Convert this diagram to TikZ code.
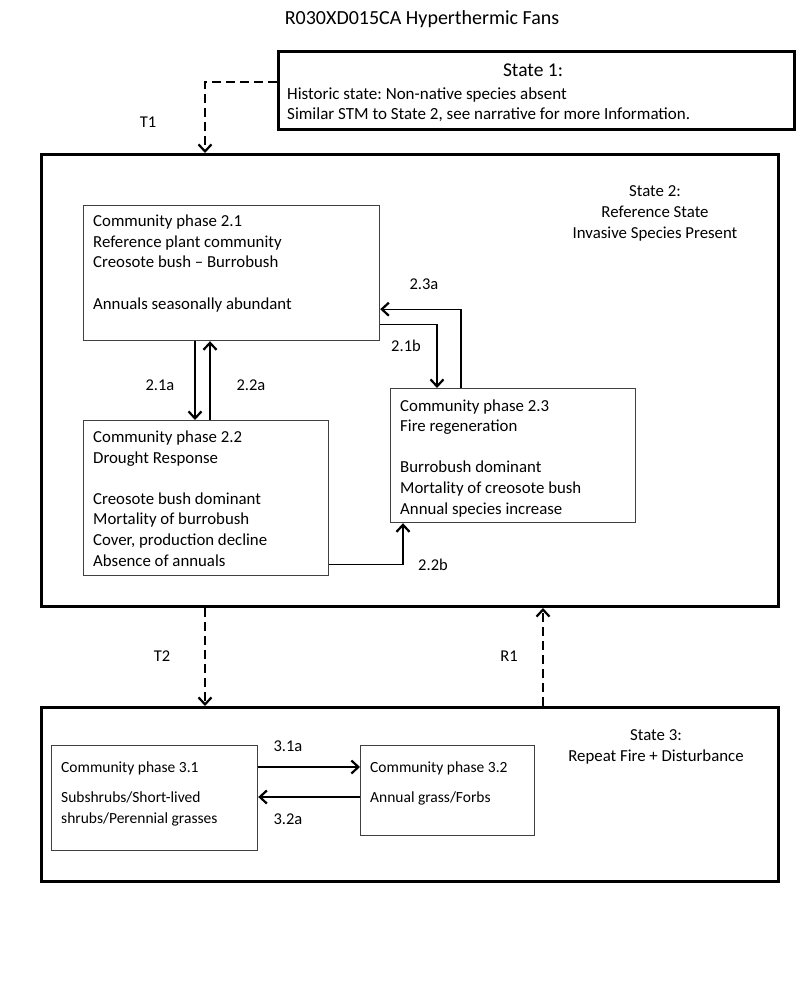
\documentclass[tikz,border=0pt]{standalone}
\usepackage{fontspec}
\setmainfont{Carlito}
\usetikzlibrary{arrows.meta}
\frenchspacing
\begin{document}
\begin{tikzpicture}[x=1pt,y=-1pt,
  stbox/.style={draw=black,line width=3pt,rectangle,inner sep=0pt,anchor=north west},
  phbox/.style={draw=black!75,line width=1.2pt,rectangle,inner sep=0pt,anchor=north west},
  tx/.style={font=\fontsize{16.8}{20.6}\selectfont,inner sep=0pt,align=left,anchor=base west},
  txs/.style={font=\fontsize{15.5}{21}\selectfont,inner sep=0pt,align=left,anchor=base west},
  txc/.style={font=\fontsize{16.8}{20.6}\selectfont,inner sep=0pt,align=center,anchor=base},
  lbl/.style={font=\fontsize{16.5}{18}\selectfont,inner sep=0pt},
  arr/.style={line width=1.3pt,-{Straight Barb[length=7pt,width=13pt,line width=2.2pt]}},
  darr/.style={line width=1.3pt,dash pattern=on 9pt off 5pt,-{Straight Barb[length=7pt,width=13pt,line width=2.2pt]}}]
\useasboundingbox[fill=white] (0,0) rectangle (800,984);

\node[font=\fontsize{20}{24}\selectfont,inner sep=0pt,anchor=base] (title) at (422,25) {R030XD015CA Hyperthermic Fans};

% State 1
\node[stbox,minimum width=516pt,minimum height=78pt] (s1) at (277,50) {};
\node[font=\fontsize{19.5}{22}\selectfont,inner sep=0pt,anchor=base] (s1t) at (533,77) {State 1:};
\node[tx,font=\fontsize{17}{20}\selectfont] (s1a) at (287,120) {Historic state: Non-native species absent\\Similar STM to State 2, see narrative for more Information.};

% State 2
\node[stbox,minimum width=737pt,minimum height=452pt] (s2) at (40,153) {};
\node[txc] (s2t) at (655,238) {State 2:\\Reference State\\Invasive Species Present};

\node[phbox,minimum width=296pt,minimum height=135pt] (p21) at (83,205) {};
\node[tx] (p21t) at (93,309) {Community phase 2.1\\Reference plant community\\Creosote bush -- Burrobush\\[20.6pt]Annuals seasonally abundant};

\node[phbox,minimum width=245pt,minimum height=155pt] (p22) at (83,420) {};
\node[tx] (p22t) at (93,566) {Community phase 2.2\\Drought Response\\[20.6pt]Creosote bush dominant\\Mortality of burrobush\\Cover, production decline\\Absence of annuals};

\node[phbox,minimum width=245pt,minimum height=134pt] (p23) at (390,388) {};
\node[tx] (p23t) at (400,514) {Community phase 2.3\\Fire regeneration\\[20.6pt]Burrobush dominant\\Mortality of creosote bush\\Annual species increase};

\draw[arr] ([xshift=112pt]p21.south west) -- ([xshift=112pt]p22.north west);
\draw[arr] ([xshift=127pt]p22.north west) -- ([xshift=127pt]p21.south west);
\node[lbl] (l21a) at (160,385) {2.1a};
\node[lbl] (l22a) at (251,385) {2.2a};

\draw[arr] ([yshift=17pt]p21.south east) -| ([xshift=47pt]p23.north west);
\draw[arr] ([xshift=71pt]p23.north west) |- ([yshift=32pt]p21.south east);
\node[lbl] (l21b) at (406,346) {2.1b};
\node[lbl] (l23a) at (424,284) {2.3a};

\draw[arr] ([yshift=12pt]p22.south east) -| ([xshift=13pt]p23.south west);
\node[lbl] (l22b) at (433,565) {2.2b};

% State 3
\node[stbox,minimum width=737pt,minimum height=174pt] (s3) at (40,706) {};
\node[txc] (s3t) at (656,761) {State 3:\\Repeat Fire + Disturbance};

\node[phbox,minimum width=206pt,minimum height=105pt] (p31) at (51,745) {};
\node[txs] (p31t) at (61,823) {Community phase 3.1\\[9pt]Subshrubs/Short-lived\\shrubs/Perennial grasses};
\node[phbox,minimum width=174pt,minimum height=90pt] (p32) at (360,745) {};
\node[txs] (p32t) at (370,802) {Community phase 3.2\\[9pt]Annual grass/Forbs};

\draw[arr] ([yshift=-22pt]p31.north east) -- ([yshift=-22pt]p32.north west);
\draw[arr] ([yshift=-52pt]p32.north west) -- ([yshift=-52pt]p31.north east);
\node[lbl] (l31a) at (288,746) {3.1a};
\node[lbl] (l32a) at (288,819) {3.2a};

% transitions between states
\draw[darr] ([yshift=8.5pt]s1.west) -| ([xshift=165pt]s2.north west);
\node[lbl] (lT1) at (148,122) {T1};
\draw[darr] ([xshift=165pt]s2.south west) -- ([xshift=165pt]s3.north west);
\node[lbl] (lT2) at (162,656) {T2};
\draw[darr] ([xshift=503pt]s3.north west) -- ([xshift=503pt]s2.south west);
\node[lbl] (lR1) at (509,656) {R1};
\end{tikzpicture}
\end{document}
